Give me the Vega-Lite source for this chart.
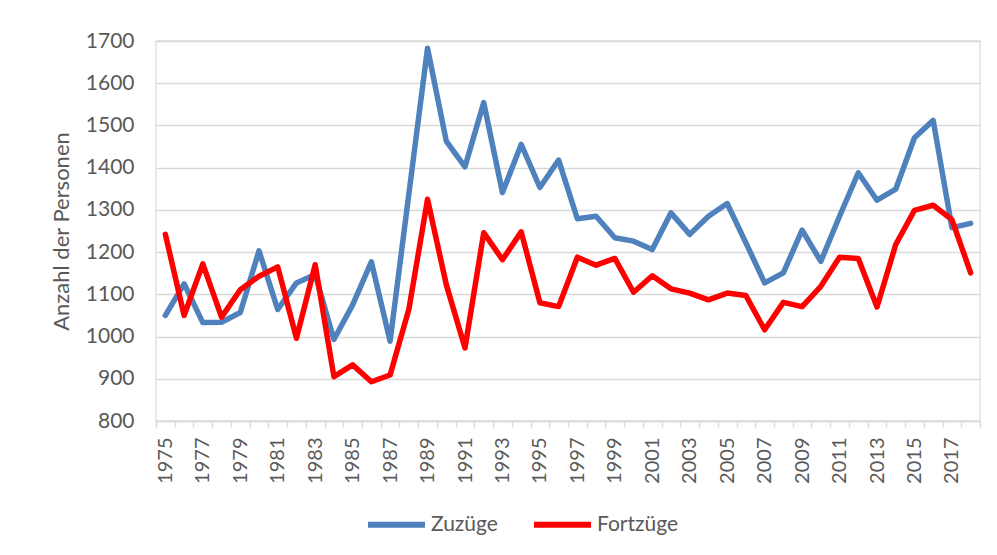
{
  "$schema": "https://vega.github.io/schema/vega-lite/v6.json",
  "width": 824,
  "height": 380,
  "autosize": "none",
  "padding": {"left": 156, "top": 41, "right": 17, "bottom": 134},
  "background": "white",
  "config": {
    "font": "Lato",
    "view": {"stroke": "#E4E2D8", "strokeWidth": 1.5}
  },
  "data": {
    "values": [
      {"Jahr": 1975, "Serie": "Zuzüge", "Wert": 1050},
      {"Jahr": 1976, "Serie": "Zuzüge", "Wert": 1125},
      {"Jahr": 1977, "Serie": "Zuzüge", "Wert": 1033},
      {"Jahr": 1978, "Serie": "Zuzüge", "Wert": 1034},
      {"Jahr": 1979, "Serie": "Zuzüge", "Wert": 1057},
      {"Jahr": 1980, "Serie": "Zuzüge", "Wert": 1203},
      {"Jahr": 1981, "Serie": "Zuzüge", "Wert": 1064},
      {"Jahr": 1982, "Serie": "Zuzüge", "Wert": 1127},
      {"Jahr": 1983, "Serie": "Zuzüge", "Wert": 1147},
      {"Jahr": 1984, "Serie": "Zuzüge", "Wert": 993},
      {"Jahr": 1985, "Serie": "Zuzüge", "Wert": 1075},
      {"Jahr": 1986, "Serie": "Zuzüge", "Wert": 1177},
      {"Jahr": 1987, "Serie": "Zuzüge", "Wert": 989},
      {"Jahr": 1988, "Serie": "Zuzüge", "Wert": 1337},
      {"Jahr": 1989, "Serie": "Zuzüge", "Wert": 1683},
      {"Jahr": 1990, "Serie": "Zuzüge", "Wert": 1463},
      {"Jahr": 1991, "Serie": "Zuzüge", "Wert": 1402},
      {"Jahr": 1992, "Serie": "Zuzüge", "Wert": 1554},
      {"Jahr": 1993, "Serie": "Zuzüge", "Wert": 1341},
      {"Jahr": 1994, "Serie": "Zuzüge", "Wert": 1455},
      {"Jahr": 1995, "Serie": "Zuzüge", "Wert": 1353},
      {"Jahr": 1996, "Serie": "Zuzüge", "Wert": 1418},
      {"Jahr": 1997, "Serie": "Zuzüge", "Wert": 1279},
      {"Jahr": 1998, "Serie": "Zuzüge", "Wert": 1285},
      {"Jahr": 1999, "Serie": "Zuzüge", "Wert": 1234},
      {"Jahr": 2000, "Serie": "Zuzüge", "Wert": 1226},
      {"Jahr": 2001, "Serie": "Zuzüge", "Wert": 1206},
      {"Jahr": 2002, "Serie": "Zuzüge", "Wert": 1293},
      {"Jahr": 2003, "Serie": "Zuzüge", "Wert": 1242},
      {"Jahr": 2004, "Serie": "Zuzüge", "Wert": 1285},
      {"Jahr": 2005, "Serie": "Zuzüge", "Wert": 1315},
      {"Jahr": 2006, "Serie": "Zuzüge", "Wert": 1222},
      {"Jahr": 2007, "Serie": "Zuzüge", "Wert": 1127},
      {"Jahr": 2008, "Serie": "Zuzüge", "Wert": 1151},
      {"Jahr": 2009, "Serie": "Zuzüge", "Wert": 1252},
      {"Jahr": 2010, "Serie": "Zuzüge", "Wert": 1178},
      {"Jahr": 2011, "Serie": "Zuzüge", "Wert": 1285},
      {"Jahr": 2012, "Serie": "Zuzüge", "Wert": 1388},
      {"Jahr": 2013, "Serie": "Zuzüge", "Wert": 1323},
      {"Jahr": 2014, "Serie": "Zuzüge", "Wert": 1349},
      {"Jahr": 2015, "Serie": "Zuzüge", "Wert": 1471},
      {"Jahr": 2016, "Serie": "Zuzüge", "Wert": 1512},
      {"Jahr": 2017, "Serie": "Zuzüge", "Wert": 1258},
      {"Jahr": 2018, "Serie": "Zuzüge", "Wert": 1268},
      {"Jahr": 1975, "Serie": "Fortzüge", "Wert": 1242},
      {"Jahr": 1976, "Serie": "Fortzüge", "Wert": 1050},
      {"Jahr": 1977, "Serie": "Fortzüge", "Wert": 1172},
      {"Jahr": 1978, "Serie": "Fortzüge", "Wert": 1046},
      {"Jahr": 1979, "Serie": "Fortzüge", "Wert": 1111},
      {"Jahr": 1980, "Serie": "Fortzüge", "Wert": 1143},
      {"Jahr": 1981, "Serie": "Fortzüge", "Wert": 1165},
      {"Jahr": 1982, "Serie": "Fortzüge", "Wert": 996},
      {"Jahr": 1983, "Serie": "Fortzüge", "Wert": 1170},
      {"Jahr": 1984, "Serie": "Fortzüge", "Wert": 905},
      {"Jahr": 1985, "Serie": "Fortzüge", "Wert": 933},
      {"Jahr": 1986, "Serie": "Fortzüge", "Wert": 893},
      {"Jahr": 1987, "Serie": "Fortzüge", "Wert": 909},
      {"Jahr": 1988, "Serie": "Fortzüge", "Wert": 1064},
      {"Jahr": 1989, "Serie": "Fortzüge", "Wert": 1325},
      {"Jahr": 1990, "Serie": "Fortzüge", "Wert": 1123},
      {"Jahr": 1991, "Serie": "Fortzüge", "Wert": 973},
      {"Jahr": 1992, "Serie": "Fortzüge", "Wert": 1246},
      {"Jahr": 1993, "Serie": "Fortzüge", "Wert": 1182},
      {"Jahr": 1994, "Serie": "Fortzüge", "Wert": 1248},
      {"Jahr": 1995, "Serie": "Fortzüge", "Wert": 1080},
      {"Jahr": 1996, "Serie": "Fortzüge", "Wert": 1071},
      {"Jahr": 1997, "Serie": "Fortzüge", "Wert": 1188},
      {"Jahr": 1998, "Serie": "Fortzüge", "Wert": 1169},
      {"Jahr": 1999, "Serie": "Fortzüge", "Wert": 1185},
      {"Jahr": 2000, "Serie": "Fortzüge", "Wert": 1105},
      {"Jahr": 2001, "Serie": "Fortzüge", "Wert": 1144},
      {"Jahr": 2002, "Serie": "Fortzüge", "Wert": 1113},
      {"Jahr": 2003, "Serie": "Fortzüge", "Wert": 1103},
      {"Jahr": 2004, "Serie": "Fortzüge", "Wert": 1087},
      {"Jahr": 2005, "Serie": "Fortzüge", "Wert": 1103},
      {"Jahr": 2006, "Serie": "Fortzüge", "Wert": 1097},
      {"Jahr": 2007, "Serie": "Fortzüge", "Wert": 1016},
      {"Jahr": 2008, "Serie": "Fortzüge", "Wert": 1081},
      {"Jahr": 2009, "Serie": "Fortzüge", "Wert": 1071},
      {"Jahr": 2010, "Serie": "Fortzüge", "Wert": 1119},
      {"Jahr": 2011, "Serie": "Fortzüge", "Wert": 1188},
      {"Jahr": 2012, "Serie": "Fortzüge", "Wert": 1185},
      {"Jahr": 2013, "Serie": "Fortzüge", "Wert": 1070},
      {"Jahr": 2014, "Serie": "Fortzüge", "Wert": 1218},
      {"Jahr": 2015, "Serie": "Fortzüge", "Wert": 1299},
      {"Jahr": 2016, "Serie": "Fortzüge", "Wert": 1311},
      {"Jahr": 2017, "Serie": "Fortzüge", "Wert": 1277},
      {"Jahr": 2018, "Serie": "Fortzüge", "Wert": 1151}
    ]
  },
  "mark": {"type": "line", "strokeWidth": 5.5, "strokeJoin": "round", "strokeCap": "round"},
  "encoding": {
    "x": {
      "field": "Jahr",
      "type": "ordinal",
      "bandPosition": 0.5,
      "scale": {"type": "band", "paddingInner": 0, "paddingOuter": 0},
      "axis": {
        "title": null,
        "grid": false,
        "labelAngle": -90,
        "labelExpr": "toNumber(datum.value) % 2 == 1 ? datum.label : ''",
        "labelFontSize": 20,
        "labelColor": "#595959",
        "labelPadding": 10,
        "tickBand": "extent",
        "tickSize": 6,
        "tickColor": "#D9D9D9",
        "tickWidth": 1.5,
        "domainColor": "#D9D9D9",
        "domainWidth": 1.5
      }
    },
    "y": {
      "field": "Wert",
      "type": "quantitative",
      "scale": {"domain": [800, 1700], "nice": false, "zero": false},
      "axis": {
        "title": "Anzahl der Personen",
        "titleFontSize": 22,
        "titleFontWeight": "normal",
        "titleColor": "#595959",
        "titlePadding": 12,
        "format": "d",
        "values": [800, 900, 1000, 1100, 1200, 1300, 1400, 1500, 1600, 1700],
        "labelFontSize": 21,
        "labelColor": "#595959",
        "labelPadding": 22,
        "ticks": false,
        "domain": false,
        "grid": true,
        "gridColor": "#D9D9D9",
        "gridWidth": 1.5
      }
    },
    "color": {
      "field": "Serie",
      "type": "nominal",
      "sort": ["Zuzüge", "Fortzüge"],
      "scale": {"domain": ["Zuzüge", "Fortzüge"], "range": ["#4F81BD", "#FF0000"]},
      "legend": {
        "title": null,
        "orient": "none",
        "direction": "horizontal",
        "legendX": 209,
        "legendY": 452,
        "symbolType": "stroke",
        "symbolSize": 3249,
        "symbolStrokeWidth": 6,
        "labelFontSize": 21,
        "labelColor": "#595959",
        "labelOffset": 3,
        "columnPadding": 24
      }
    }
  }
}
